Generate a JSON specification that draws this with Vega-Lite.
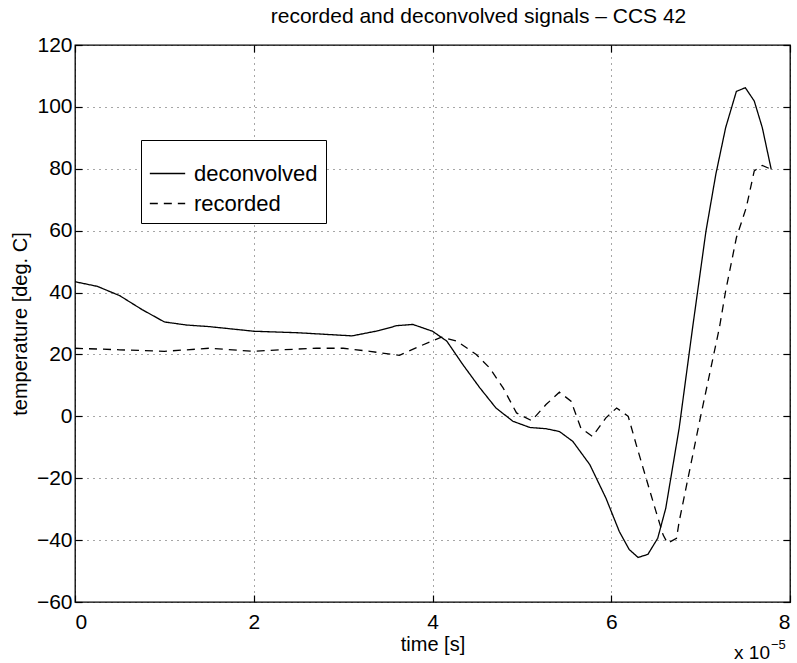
{
  "$schema": "https://vega.github.io/schema/vega-lite/v6.json",
  "width": 715,
  "height": 557,
  "autosize": "none",
  "padding": {"left": 75, "top": 45, "right": 7, "bottom": 61},
  "background": "white",
  "config": {
    "font": "Liberation Sans",
    "view": {"stroke": "black", "strokeWidth": 1.3},
    "axis": {
      "labelFont": "Liberation Sans",
      "titleFont": "Liberation Sans",
      "labelFontSize": 21,
      "titleFontSize": 20,
      "labelColor": "black",
      "titleColor": "black",
      "titleFontWeight": "normal",
      "domain": false,
      "tickColor": "black",
      "tickSize": -7,
      "tickWidth": 1.2,
      "gridColor": "black",
      "gridDash": [1, 5],
      "gridOpacity": 0.7,
      "gridWidth": 1
    }
  },
  "title": {
    "text": "recorded and deconvolved signals – CCS 42",
    "font": "Liberation Sans",
    "fontSize": 21,
    "fontWeight": "normal",
    "color": "black",
    "anchor": "middle",
    "dx": 46,
    "offset": 7
  },
  "data": {
    "values": [
      {"t": 0.0, "v": 43.5, "s": "deconvolved"},
      {"t": 0.25, "v": 42.0, "s": "deconvolved"},
      {"t": 0.5, "v": 39.0, "s": "deconvolved"},
      {"t": 0.75, "v": 34.5, "s": "deconvolved"},
      {"t": 1.0, "v": 30.5, "s": "deconvolved"},
      {"t": 1.25, "v": 29.5, "s": "deconvolved"},
      {"t": 1.5, "v": 29.0, "s": "deconvolved"},
      {"t": 2.0, "v": 27.5, "s": "deconvolved"},
      {"t": 2.5, "v": 27.0, "s": "deconvolved"},
      {"t": 2.8, "v": 26.5, "s": "deconvolved"},
      {"t": 3.1, "v": 26.0, "s": "deconvolved"},
      {"t": 3.4, "v": 27.7, "s": "deconvolved"},
      {"t": 3.6, "v": 29.3, "s": "deconvolved"},
      {"t": 3.78, "v": 29.7, "s": "deconvolved"},
      {"t": 4.0, "v": 27.5, "s": "deconvolved"},
      {"t": 4.16, "v": 24.3, "s": "deconvolved"},
      {"t": 4.34, "v": 16.7, "s": "deconvolved"},
      {"t": 4.53, "v": 9.2, "s": "deconvolved"},
      {"t": 4.71, "v": 2.7, "s": "deconvolved"},
      {"t": 4.9, "v": -1.6, "s": "deconvolved"},
      {"t": 5.09, "v": -3.6, "s": "deconvolved"},
      {"t": 5.27, "v": -4.0, "s": "deconvolved"},
      {"t": 5.42, "v": -4.9, "s": "deconvolved"},
      {"t": 5.57, "v": -8.1, "s": "deconvolved"},
      {"t": 5.76, "v": -15.6, "s": "deconvolved"},
      {"t": 5.94, "v": -26.4, "s": "deconvolved"},
      {"t": 6.09, "v": -37.2, "s": "deconvolved"},
      {"t": 6.2, "v": -43.0, "s": "deconvolved"},
      {"t": 6.3, "v": -45.6, "s": "deconvolved"},
      {"t": 6.41, "v": -44.6, "s": "deconvolved"},
      {"t": 6.52, "v": -39.4, "s": "deconvolved"},
      {"t": 6.61, "v": -29.7, "s": "deconvolved"},
      {"t": 6.76, "v": -3.8, "s": "deconvolved"},
      {"t": 6.91, "v": 28.6, "s": "deconvolved"},
      {"t": 7.06, "v": 59.9, "s": "deconvolved"},
      {"t": 7.17, "v": 78.2, "s": "deconvolved"},
      {"t": 7.28, "v": 93.3, "s": "deconvolved"},
      {"t": 7.4, "v": 105.0, "s": "deconvolved"},
      {"t": 7.5, "v": 106.2, "s": "deconvolved"},
      {"t": 7.6, "v": 101.9, "s": "deconvolved"},
      {"t": 7.69, "v": 93.3, "s": "deconvolved"},
      {"t": 7.79, "v": 79.8, "s": "deconvolved"},
      {"t": 0.0, "v": 22.0, "s": "recorded"},
      {"t": 0.5, "v": 21.5, "s": "recorded"},
      {"t": 1.0, "v": 21.0, "s": "recorded"},
      {"t": 1.5, "v": 22.0, "s": "recorded"},
      {"t": 2.0, "v": 21.0, "s": "recorded"},
      {"t": 2.3, "v": 21.5, "s": "recorded"},
      {"t": 2.7, "v": 22.0, "s": "recorded"},
      {"t": 3.0, "v": 22.0, "s": "recorded"},
      {"t": 3.3, "v": 21.0, "s": "recorded"},
      {"t": 3.63, "v": 19.7, "s": "recorded"},
      {"t": 3.86, "v": 22.7, "s": "recorded"},
      {"t": 4.1, "v": 25.6, "s": "recorded"},
      {"t": 4.27, "v": 24.3, "s": "recorded"},
      {"t": 4.49, "v": 20.0, "s": "recorded"},
      {"t": 4.64, "v": 15.6, "s": "recorded"},
      {"t": 4.79, "v": 9.2, "s": "recorded"},
      {"t": 4.94, "v": 1.1, "s": "recorded"},
      {"t": 5.11, "v": -1.4, "s": "recorded"},
      {"t": 5.27, "v": 3.8, "s": "recorded"},
      {"t": 5.42, "v": 7.8, "s": "recorded"},
      {"t": 5.55, "v": 4.9, "s": "recorded"},
      {"t": 5.66, "v": -3.8, "s": "recorded"},
      {"t": 5.79, "v": -6.5, "s": "recorded"},
      {"t": 5.94, "v": -0.5, "s": "recorded"},
      {"t": 6.06, "v": 2.7, "s": "recorded"},
      {"t": 6.19, "v": 0.0, "s": "recorded"},
      {"t": 6.28, "v": -9.2, "s": "recorded"},
      {"t": 6.39, "v": -20.0, "s": "recorded"},
      {"t": 6.5, "v": -30.7, "s": "recorded"},
      {"t": 6.58, "v": -38.3, "s": "recorded"},
      {"t": 6.63, "v": -41.0, "s": "recorded"},
      {"t": 6.73, "v": -39.4, "s": "recorded"},
      {"t": 6.76, "v": -34.0, "s": "recorded"},
      {"t": 7.0, "v": 0.0, "s": "recorded"},
      {"t": 7.21, "v": 28.6, "s": "recorded"},
      {"t": 7.28, "v": 40.5, "s": "recorded"},
      {"t": 7.4, "v": 57.7, "s": "recorded"},
      {"t": 7.51, "v": 67.4, "s": "recorded"},
      {"t": 7.6, "v": 79.3, "s": "recorded"},
      {"t": 7.69, "v": 81.1, "s": "recorded"},
      {"t": 7.79, "v": 79.8, "s": "recorded"}
    ]
  },
  "layer": [
    {
      "mark": {"type": "line", "color": "black", "strokeWidth": 1.3},
      "encoding": {
        "x": {
          "field": "t", "type": "quantitative",
          "scale": {"domain": [0, 8], "nice": false, "zero": false},
          "axis": {"values": [0, 2, 4, 6, 8], "title": "time [s]", "titlePadding": 2, "labelPadding": 16, "grid": true, "orient": "bottom"}
        },
        "y": {
          "field": "v", "type": "quantitative",
          "scale": {"domain": [-60, 120], "nice": false, "zero": false},
          "axis": {"values": [-60, -40, -20, 0, 20, 40, 60, 80, 100, 120], "title": "temperature [deg. C]", "titlePadding": 6, "labelPadding": 10, "grid": true, "orient": "left"}
        },
        "strokeDash": {
          "field": "s", "type": "nominal",
          "scale": {"domain": ["deconvolved", "recorded"], "range": [[1, 0], [8, 6]]},
          "legend": {
            "title": " ",
            "titleFontSize": 7,
            "titlePadding": 0,
            "orient": "none",
            "legendX": 66,
            "legendY": 95,
            "strokeColor": "black",
            "fillColor": "white",
            "padding": 8,
            "labelFontSize": 22,
            "labelFont": "Liberation Sans",
            "labelColor": "black",
            "symbolType": "stroke",
            "symbolSize": 1250,
            "symbolStrokeColor": "black",
            "symbolStrokeWidth": 1.3,
            "rowPadding": 0,
            "labelOffset": 8
          }
        },
        "detail": {"field": "s"}
      }
    },
    {
      "mark": {"type": "point", "opacity": 0},
      "encoding": {
        "x": {
          "field": "t", "type": "quantitative",
          "axis": {"values": [0, 2, 4, 6, 8], "orient": "top", "labels": false, "title": null, "grid": false}
        },
        "y": {
          "field": "v", "type": "quantitative",
          "axis": {"values": [-60, -40, -20, 0, 20, 40, 60, 80, 100, 120], "orient": "right", "labels": false, "title": null, "grid": false}
        }
      }
    },
    {
      "data": {"values": [{"t": 8, "v": -60, "txt": "x 10"}]},
      "mark": {"type": "text", "font": "Liberation Sans", "fontSize": 19, "color": "black", "align": "right", "baseline": "alphabetic", "dx": -20, "dy": 57},
      "encoding": {
        "x": {"field": "t", "type": "quantitative", "axis": null},
        "y": {"field": "v", "type": "quantitative", "axis": null},
        "text": {"field": "txt"}
      }
    },
    {
      "data": {"values": [{"t": 8, "v": -60, "sup": "−5"}]},
      "mark": {"type": "text", "font": "Liberation Sans", "fontSize": 13, "color": "black", "align": "left", "baseline": "alphabetic", "dx": -19, "dy": 47},
      "encoding": {
        "x": {"field": "t", "type": "quantitative", "axis": null},
        "y": {"field": "v", "type": "quantitative", "axis": null},
        "text": {"field": "sup"}
      }
    }
  ],
  "resolve": {"axis": {"x": "independent", "y": "independent"}}
}
